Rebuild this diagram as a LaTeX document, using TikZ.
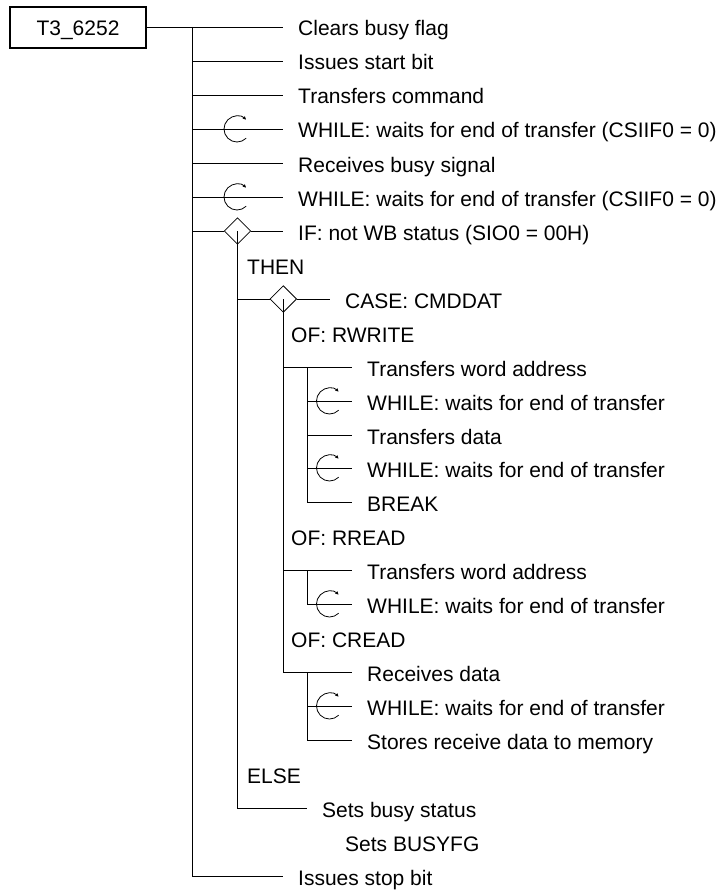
\documentclass[tikz,border=0pt]{standalone}
\usepackage{fontspec}
\setmainfont{Liberation Sans}
\usetikzlibrary{shapes.geometric,arrows.meta}

\begin{document}
\begin{tikzpicture}[
  x=1pt, y=-1pt,
  fnbox/.style = {draw, line width=2pt, minimum width=136pt,
                  minimum height=41pt, inner sep=0pt,
                  text height=16pt, text depth=0pt,
                  font=\fontsize{21}{25}\selectfont},
  txt/.style   = {anchor=west, inner xsep=15pt, inner ysep=0pt,
                  text height=18pt, text depth=0pt,
                  font=\fontsize{21}{25}\selectfont},
  lab/.style   = {txt, inner xsep=0pt},
  cond/.style  = {diamond, draw, line width=0.8pt, inner sep=0pt,
                  minimum width=26.6pt, minimum height=26.6pt},
  ln/.style    = {line width=0.8pt},
  whl/.style   = {line width=0.8pt, -{Latex[length=3.5pt,width=3.5pt]}}
]
  \useasboundingbox (0,0) rectangle (726,896);

  % Function
  \node[fnbox] (fn) at (78,27.5) {T3\_6252};
  \coordinate (trunk) at (192,27);

  % Main sequence
  \node[txt] (clr)   at (283,27)  {Clears busy flag};
  \node[txt] (start) at (283,61)  {Issues start bit};
  \node[txt] (cmd)   at (283,95)  {Transfers command};
  \node[txt] (wait1) at (283,129) {WHILE: waits for end of transfer (CSIIF0 = 0)};
  \node[txt] (busy)  at (283,163) {Receives busy signal};
  \node[txt] (wait2) at (283,197) {WHILE: waits for end of transfer (CSIIF0 = 0)};
  \node[cond] (dif)  at (237.5,231) {};
  \node[txt] (ifwb)  at (283,231) {IF: not WB status (SIO0 = 00H)};
  \node[txt] (stop)  at (283,876) {Issues stop bit};

  % THEN part
  \node[lab] (then)  at (247,265) {THEN};
  \node[cond] (dcase) at (283.3,299) {};
  \node[txt] (case)  at (330,299) {CASE: CMDDAT};

  \node[lab] (ofw)   at (291,333) {OF: RWRITE};
  \node[txt] (wadr1) at (352,367) {Transfers word address};
  \node[txt] (wait3) at (352,401) {WHILE: waits for end of transfer};
  \node[txt] (data)  at (352,435) {Transfers data};
  \node[txt] (wait4) at (352,468) {WHILE: waits for end of transfer};
  \node[txt] (brk)   at (352,502) {BREAK};

  \node[lab] (ofr)   at (291,536) {OF: RREAD};
  \node[txt] (wadr2) at (352,570) {Transfers word address};
  \node[txt] (wait5) at (352,604) {WHILE: waits for end of transfer};

  \node[lab] (ofc)   at (291,638) {OF: CREAD};
  \node[txt] (rdata) at (352,672) {Receives data};
  \node[txt] (wait6) at (352,706) {WHILE: waits for end of transfer};
  \node[txt] (store) at (352,740) {Stores receive data to memory};

  % ELSE part
  \node[lab] (else)  at (247,774) {ELSE};
  \node[txt] (sets)  at (307,808) {Sets busy status};
  \node[lab] (setfg) at (345,842) {Sets BUSYFG};

  \coordinate (in1) at (307,367);
  \coordinate (in2) at (307,570);
  \coordinate (in3) at (307,672);

  % Trunk
  \draw[ln] (fn.east |- clr.west) -- (clr.west);
  \draw[ln] (trunk) -- (trunk |- stop.west);
  \draw[ln] (trunk |- start.west) -- (start.west);
  \draw[ln] (trunk |- cmd.west)   -- (cmd.west);
  \draw[ln] (trunk |- wait1.west) -- (wait1.west);
  \draw[ln] (trunk |- busy.west)  -- (busy.west);
  \draw[ln] (trunk |- wait2.west) -- (wait2.west);
  \draw[ln] (trunk |- dif.west)   -- (dif.west);
  \draw[ln] (dif.east) -- (ifwb.west);
  \draw[ln] (trunk |- stop.west)  -- (stop.west);

  % IF branch
  \draw[ln] (dif.center) -- (dif.center |- sets.west) -- (sets.west);
  \draw[ln] (dif.center |- dcase.west) -- (dcase.west);
  \draw[ln] (dcase.east) -- (case.west);

  % CASE branch
  \draw[ln] (dcase.center) -- (dcase.center |- rdata.west);
  \draw[ln] (dcase.center |- wadr1.west) -- (wadr1.west);
  \draw[ln] (dcase.center |- wadr2.west) -- (wadr2.west);
  \draw[ln] (dcase.center |- rdata.west) -- (rdata.west);

  % OF: RWRITE
  \draw[ln] (in1) -- (in1 |- brk.west) -- (brk.west);
  \draw[ln] (in1 |- wait3.west) -- (wait3.west);
  \draw[ln] (in1 |- data.west)  -- (data.west);
  \draw[ln] (in1 |- wait4.west) -- (wait4.west);

  % OF: RREAD
  \draw[ln] (in2) -- (in2 |- wait5.west) -- (wait5.west);

  % OF: CREAD
  \draw[ln] (in3) -- (in3 |- store.west) -- (store.west);
  \draw[ln] (in3 |- wait6.west) -- (wait6.west);

  % WHILE loops
  \foreach \ax/\ay in {237/129, 237/197, 329.5/401, 329.5/468,
                       329.5/604, 329.5/706}
    \draw[whl] ([shift={(-45:13pt)}]\ax,\ay)
      arc[start angle=-45, end angle=-315, radius=13pt];

\end{tikzpicture}
\end{document}
